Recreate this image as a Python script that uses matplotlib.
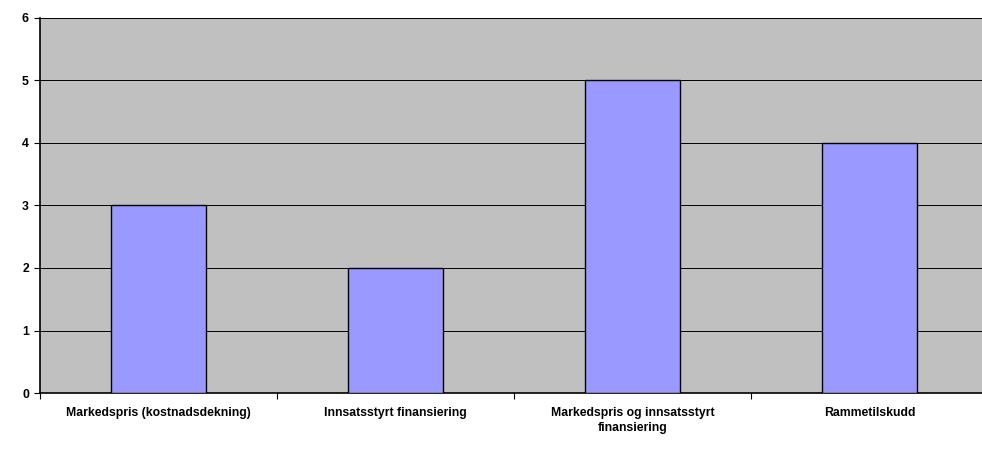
import matplotlib
matplotlib.use("Agg")
import matplotlib.pyplot as plt
import numpy as np

categories = [
    "Markedspris (kostnadsdekning)",
    "Innsatsstyrt finansiering",
    "Markedspris og innsatsstyrt\nfinansiering",
    "Rammetilskudd",
]
values = [3, 2, 5, 4]
y_ticks = [0, 1, 2, 3, 4, 5, 6]

plt.rcParams['font.family'] = ['Liberation Sans', 'DejaVu Sans']

fig = plt.figure(figsize=(9.82, 4.5), dpi=100)
# plot area runs slightly past the right edge of the figure
ax = fig.add_axes([40 / 982, 57 / 450, 948 / 982, 375 / 450])
ax.set_facecolor('#C0C0C0')

x = np.arange(len(categories))
ax.bar(x, values, width=0.4, color='#9999FF', edgecolor='black', linewidth=1, zorder=3)

# horizontal gridlines
ax.set_ylim(0, 6)
ax.set_yticks(y_ticks)
ax.set_yticklabels([str(v) for v in y_ticks], fontsize=8.8, fontweight='bold')
ax.yaxis.grid(True, color='black', linewidth=0.7, zorder=0)
ax.set_axisbelow(True)

# category labels centred, tick marks between categories
ax.set_xlim(-0.5, len(categories) - 0.5)
ax.set_xticks(x)
ax.set_xticklabels(categories, fontsize=8.8, fontweight='bold', linespacing=1.35)
ax.tick_params(axis='x', which='major', length=0, pad=10)
ax.set_xticks(np.arange(-0.5, len(categories)), minor=True)
ax.tick_params(axis='x', which='minor', length=4, width=0.8)
ax.tick_params(axis='y', length=4, width=0.8, pad=4)

for side in ['top', 'right']:
    ax.spines[side].set_visible(False)
ax.spines['left'].set_linewidth(1.2)
ax.spines['bottom'].set_linewidth(1.2)

fig.savefig('out.png', dpi=100)
